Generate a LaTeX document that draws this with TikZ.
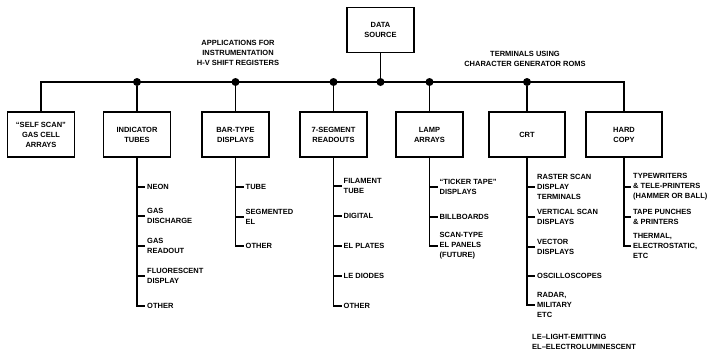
\documentclass[tikz,border=0pt]{standalone}
\usepackage{fontspec}
\setmainfont{Liberation Sans}
\usetikzlibrary{positioning}

\begin{document}
\begin{tikzpicture}[
    x=1pt, y=-1pt,
    every node/.style={font=\fontsize{7.5}{10}\selectfont\bfseries},
    box/.style={rectangle, draw, line width=1.3pt, minimum width=67pt, minimum height=45pt, align=center, inner sep=2pt},
    widebox/.style={box, minimum width=76pt},
    item/.style={anchor=west, align=left, inner sep=2pt},
    note/.style={align=center, inner sep=1pt},
    wire/.style={line width=1.3pt},
    dot/.style={circle, fill=black, inner sep=0pt, minimum size=8pt}
]
\useasboundingbox (0,0) rectangle (707,351);

\coordinate (bus) at (0,82);

% source and the seven display families
\node[box] (src) at (380.5,30) {DATA\\SOURCE};
\node[box] (selfscan) at (41,134.5) {``SELF SCAN''\\GAS CELL\\ARRAYS};
\node[box] (ind) at (137,134.5) {INDICATOR\\TUBES};
\node[box] (bar) at (235.5,134.5) {BAR-TYPE\\DISPLAYS};
\node[box] (seg) at (333.5,134.5) {7-SEGMENT\\READOUTS};
\node[box] (lamp) at (429.5,134.5) {LAMP\\ARRAYS};
\node[widebox] (crt) at (527,134.5) {CRT};
\node[widebox] (hard) at (624,134.5) {HARD\\COPY};

\node[note] (apps) at (238,53) {APPLICATIONS FOR\\INSTRUMENTATION\\H-V SHIFT REGISTERS};
\node[note] (terms) at (525,59) {TERMINALS USING\\CHARACTER GENERATOR ROMS};

% junctions on the bus
\node[dot] (jind) at (ind.north |- bus) {};
\node[dot] (jbar) at (bar.north |- bus) {};
\node[dot] (jseg) at (seg.north |- bus) {};
\node[dot] (jsrc) at (src.south |- bus) {};
\node[dot] (jlamp) at (lamp.north |- bus) {};
\node[dot] (jcrt) at (crt.north |- bus) {};

\draw[wire] (selfscan.north) |- (hard.north |- bus) -- (hard.north);
\draw[wire] (src.south) -- (jsrc);
\draw[wire] (jind) -- (ind.north);
\draw[wire] (jbar) -- (bar.north);
\draw[wire] (jseg) -- (seg.north);
\draw[wire] (jlamp) -- (lamp.north);
\draw[wire] (jcrt) -- (crt.north);

% indicator tubes
\node[item] (neon) at (145,187) {NEON};
\node[item] (gasdis) at (145,216) {GAS\\DISCHARGE};
\node[item] (gasread) at (145,246) {GAS\\READOUT};
\node[item] (fluor) at (145,276) {FLUORESCENT\\DISPLAY};
\node[item] (indother) at (145,306) {OTHER};
\draw[wire] (ind.south) |- (indother.west);
\foreach \n in {neon,gasdis,gasread,fluor}
    \draw[wire] (ind.south |- \n.west) -- (\n.west);

% bar-type displays
\node[item] (tube) at (243.5,187) {TUBE};
\node[item] (segel) at (243.5,217) {SEGMENTED\\EL};
\node[item] (barother) at (243.5,246) {OTHER};
\draw[wire] (bar.south) |- (barother.west);
\foreach \n in {tube,segel}
    \draw[wire] (bar.south |- \n.west) -- (\n.west);

% 7-segment readouts
\node[item] (filament) at (341.5,186) {FILAMENT\\TUBE};
\node[item] (digital) at (341.5,216) {DIGITAL};
\node[item] (elplates) at (341.5,246) {EL PLATES};
\node[item] (lediodes) at (341.5,276) {LE DIODES};
\node[item] (segother) at (341.5,306) {OTHER};
\draw[wire] (seg.south) |- (segother.west);
\foreach \n in {filament,digital,elplates,lediodes}
    \draw[wire] (seg.south |- \n.west) -- (\n.west);

% lamp arrays
\node[item] (ticker) at (437.5,187) {``TICKER TAPE''\\DISPLAYS};
\node[item] (billboards) at (437.5,217) {BILLBOARDS};
\node[item] (scantype) at (437.5,246) {SCAN-TYPE\\EL PANELS\\(FUTURE)};
\draw[wire] (lamp.south) |- (scantype.west);
\foreach \n in {ticker,billboards}
    \draw[wire] (lamp.south |- \n.west) -- (\n.west);

% crt
\node[item] (raster) at (535,187) {RASTER SCAN\\DISPLAY\\TERMINALS};
\node[item] (vertical) at (535,217) {VERTICAL SCAN\\DISPLAYS};
\node[item] (vector) at (535,247) {VECTOR\\DISPLAYS};
\node[item] (scopes) at (535,276) {OSCILLOSCOPES};
\node[item] (radar) at (535,305) {RADAR,\\MILITARY\\ETC};
\draw[wire] (crt.south) |- (radar.west);
\foreach \n in {raster,vertical,vector,scopes}
    \draw[wire] (crt.south |- \n.west) -- (\n.west);

% hard copy
\node[item] (typewriters) at (631,187) {TYPEWRITERS\\\& TELE-PRINTERS\\(HAMMER OR BALL)};
\node[item] (punches) at (631,217) {TAPE PUNCHES\\\& PRINTERS};
\node[item] (thermal) at (631,246) {THERMAL,\\ELECTROSTATIC,\\ETC};
\draw[wire] (hard.south) |- (thermal.west);
\foreach \n in {typewriters,punches}
    \draw[wire] (hard.south |- \n.west) -- (\n.west);

\node[item] (legend) at (530,342) {LE--LIGHT-EMITTING\\EL--ELECTROLUMINESCENT};

\end{tikzpicture}
\end{document}
